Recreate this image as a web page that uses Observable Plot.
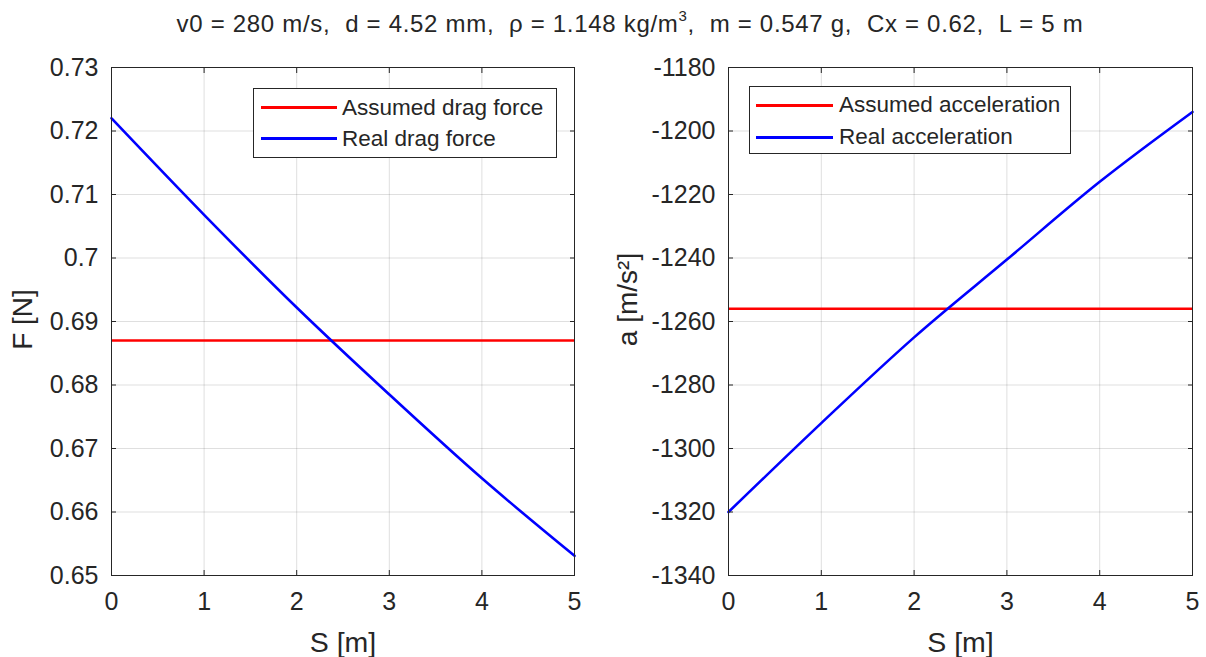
<!DOCTYPE html>
<html>
<head>
<meta charset="utf-8">
<script src="https://cdn.jsdelivr.net/npm/d3@7"></script>
<script src="https://cdn.jsdelivr.net/npm/@observablehq/plot@0.6"></script>
<style>
  body { margin: 0; background: #fff; }
  #fig { position: relative; width: 1206px; height: 657px; overflow: hidden; background: #fff;
         font-family: "Liberation Sans", Arial, sans-serif; color: #262626; }
  #title { position: absolute; left: 0; top: 0; width: 1260px; text-align: center; font-size: 24px;
           line-height: 24px; padding-top: 12px; white-space: pre; letter-spacing: 0.7px; }
  #title sup { font-size: 15px; line-height: 0; position: relative; top: -2px; }
  .panel { position: absolute; top: 45px; }
  .legend { position: absolute; background: #fff; border: 1px solid #262626; box-sizing: border-box;
            font-size: 22.5px; color: #262626; }
  .legend .row { display: flex; align-items: center; }
  .legend .swatch { display: inline-block; height: 3px; }
</style>
</head>
<body>
<div id="fig">
  <div id="title"></div>
  <div id="left" class="panel" style="left:0px"></div>
  <div id="right" class="panel" style="left:600px"></div>
  <div id="legLeft" class="legend" style="left:253px; top:88px; width:304px; height:70px; padding-top:3px;"></div>
  <div id="legRight" class="legend" style="left:749px; top:86px; width:322px; height:68px; padding-top:2px;"></div>
</div>
<script>
// ---- data ----
const S = [0, 1, 2, 3, 4, 5];
const realForce = [0.7220, 0.7068, 0.6922, 0.6785, 0.6653, 0.6531];
const assumedForce = 0.687;
const realAccel = [-1320, -1292, -1265, -1240.5, -1216, -1194];
const assumedAccel = -1256;

const xTicks = [0, 1, 2, 3, 4, 5];
const forceTicks = [0.65, 0.66, 0.67, 0.68, 0.69, 0.70, 0.71, 0.72, 0.73];
const accelTicks = [-1340, -1320, -1300, -1280, -1260, -1240, -1220, -1200, -1180];

const forceSeries = ["Assumed drag force", "Real drag force"];
const accelSeries = ["Assumed acceleration", "Real acceleration"];
const seriesColors = ["#ff0000", "#0000ff"];

const titleParts = ["v0 = 280 m/s,  d = 4.52 mm,  ρ = 1.148 kg/m", "3", ",  m = 0.547 g,  Cx = 0.62,  L = 5 m"];

const INK = "#262626";
const FONT = "'Liberation Sans', Arial, sans-serif";

document.getElementById("title").innerHTML =
  titleParts[0] + "<sup>" + titleParts[1] + "</sup>" + titleParts[2];

function panel({width, marginLeft, marginRight, yTicks, values, assumed, yLabel, yLabelDx, yLabelDy}) {
  const rows = S.map((s, i) => ({S: s, v: values[i]}));
  return Plot.plot({
    width, height: 612,
    marginLeft, marginRight, marginTop: 22, marginBottom: 82,
    style: {fontFamily: FONT, fontSize: "25px", color: INK, background: "transparent", overflow: "visible"},
    x: {domain: [xTicks[0], xTicks[xTicks.length - 1]]},
    y: {domain: [yTicks[0], yTicks[yTicks.length - 1]]},
    marks: [
      Plot.gridX(xTicks, {stroke: INK, strokeOpacity: 0.15}),
      Plot.gridY(yTicks, {stroke: INK, strokeOpacity: 0.15}),
      Plot.ruleY([assumed], {stroke: seriesColors[0], strokeWidth: 2.6}),
      Plot.line(rows, {x: "S", y: "v", stroke: seriesColors[1], strokeWidth: 2.6, curve: "monotone-x"}),
      Plot.frame({stroke: INK}),
      Plot.axisX(xTicks, {anchor: "bottom", tickSize: -5, tickPadding: 22, label: null, tickFormat: d => String(d)}),
      Plot.axisX(xTicks, {anchor: "top", tickSize: -5, fill: "none", label: null}),
      Plot.axisY(yTicks, {anchor: "left", tickSize: -5, tickPadding: 18, label: null, tickFormat: d => String(d)}),
      Plot.axisY(yTicks, {anchor: "right", tickSize: -5, fill: "none", label: null}),
      Plot.text(["S [m]"], {frameAnchor: "bottom", dy: 67, fontSize: 28.5, textAnchor: "middle", lineAnchor: "middle", fill: INK}),
      Plot.text([yLabel], {frameAnchor: "left", dx: yLabelDx, dy: yLabelDy, rotate: -90, fontSize: 28, textAnchor: "middle", lineAnchor: "middle", fill: INK})
    ]
  });
}

document.getElementById("left").appendChild(panel({
  width: 600, marginLeft: 111, marginRight: 26,
  yTicks: forceTicks, values: realForce, assumed: assumedForce,
  yLabel: "F [N]", yLabelDx: -88, yLabelDy: -2
}));
document.getElementById("right").appendChild(panel({
  width: 606, marginLeft: 128, marginRight: 14,
  yTicks: accelTicks, values: realAccel, assumed: assumedAccel,
  yLabel: "a [m/s²]", yLabelDx: -100, yLabelDy: -22
}));

function legend(id, labels, rowH, swLeft, swW, gap) {
  const el = document.getElementById(id);
  labels.forEach((lab, i) => {
    const row = document.createElement("div");
    row.className = "row";
    row.style.height = rowH + "px";
    const sw = document.createElement("span");
    sw.className = "swatch";
    sw.style.background = seriesColors[i];
    sw.style.width = swW + "px";
    sw.style.marginLeft = swLeft + "px";
    const tx = document.createElement("span");
    tx.textContent = lab;
    tx.style.marginLeft = gap + "px";
    row.appendChild(sw); row.appendChild(tx);
    el.appendChild(row);
  });
}
legend("legLeft", forceSeries, 31, 7, 76, 5);
legend("legRight", accelSeries, 32, 6, 77, 6);
</script>
</body>
</html>
